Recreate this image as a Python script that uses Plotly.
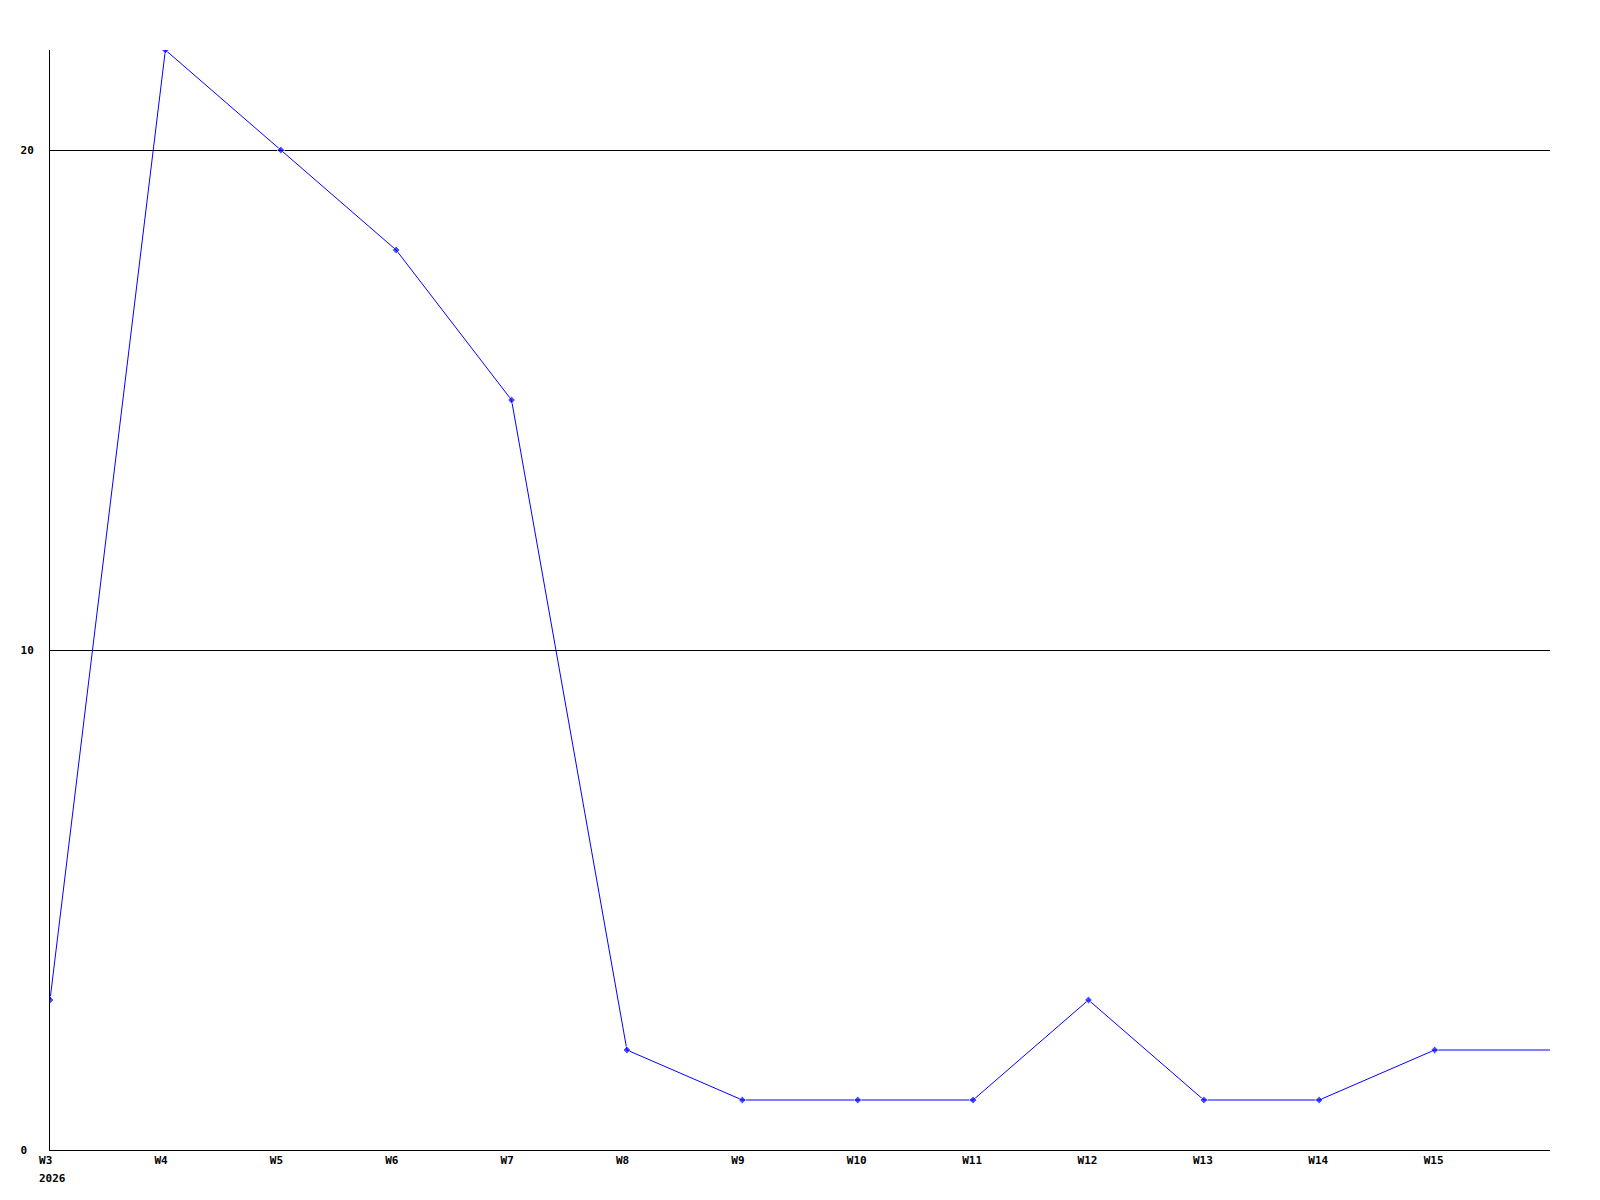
import plotly.graph_objects as go

weeks = ["W3", "W4", "W5", "W6", "W7", "W8", "W9", "W10", "W11", "W12", "W13", "W14", "W15", "W16"]
values = [3, 22, 20, 18, 15, 2, 1, 1, 1, 3, 1, 1, 2, 2]
tick_labels = ["W3", "W4", "W5", "W6", "W7", "W8", "W9", "W10", "W11", "W12", "W13", "W14", "W15"]
year_label = "2026"
y_ticks = [0, 10, 20]

x = list(range(len(weeks)))
marker_sizes = [6] * (len(weeks) - 1) + [0]

# pad with non-breaking spaces so the monospace labels are left-aligned
nb = "\u00a0"
x_text = [t + nb * (3 - len(t)) for t in tick_labels]
y_text = [str(v) + nb * (2 - len(str(v))) for v in y_ticks]

fig = go.Figure()
fig.add_trace(go.Scatter(
    x=x, y=values, mode="lines+markers",
    line=dict(color="#0000ff", width=1),
    marker=dict(color="#0000ff", size=marker_sizes, symbol="diamond"),
    hoverinfo="skip", showlegend=False,
))

tf = dict(family="DejaVu Sans Mono", size=11, color="#000000", weight="bold")
fig.update_layout(
    width=1600, height=1200,
    margin=dict(l=50, r=50, t=50, b=50),
    paper_bgcolor="white", plot_bgcolor="white",
    xaxis=dict(
        range=[0, 13], tickmode="array", tickvals=x[:len(tick_labels)], ticktext=x_text,
        showgrid=False, zeroline=False, showline=True, linecolor="#000000", linewidth=1,
        ticks="", tickfont=tf, automargin=False, ticklabelshift=-1,
    ),
    yaxis=dict(
        range=[0, 22], tickmode="array", tickvals=y_ticks, ticktext=y_text,
        showgrid=True, gridcolor="#000000", gridwidth=1, zeroline=False,
        showline=True, linecolor="#000000", linewidth=1, ticks="", ticklabelstandoff=13,
        tickfont=tf, automargin=False,
    ),
    annotations=[dict(
        x=x[0], y=0, xref="x", yref="paper", text=year_label, showarrow=False,
        xanchor="left", yanchor="top", xshift=-13, yshift=-20, font=tf,
    )],
)

fig.write_html("out.html", post_script="document.body.style.margin='0';",
               config={"displayModeBar": False})
